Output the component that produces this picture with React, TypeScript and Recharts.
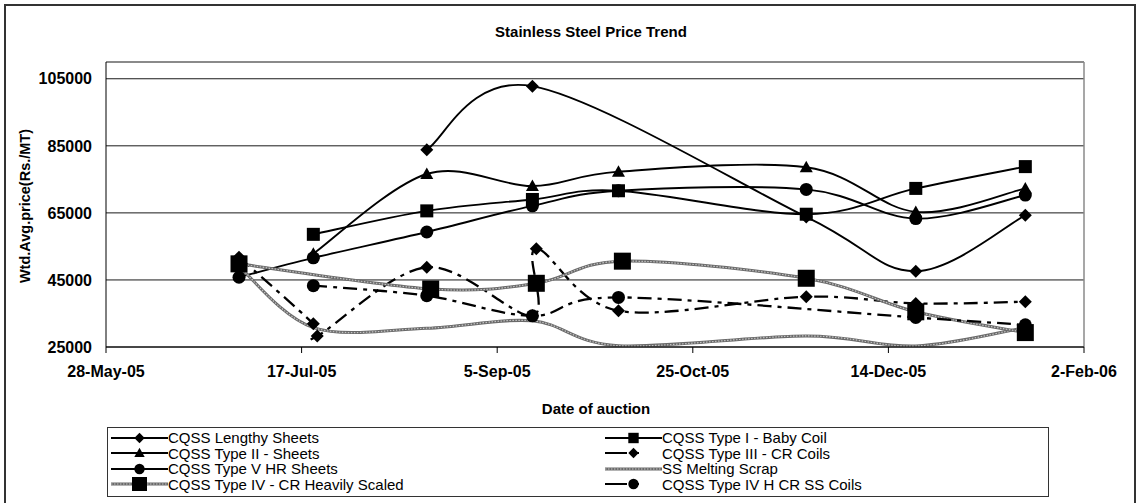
import React from 'react';
import { LineChart, Line, XAxis, YAxis, CartesianGrid, ReferenceLine } from 'recharts';

const FONT = '"Liberation Sans", Arial, sans-serif';

// axis
const xTickDates = ['2005-05-28', '2005-07-17', '2005-09-05', '2005-10-25', '2005-12-14', '2006-02-02'];
const xTickLabels = ['28-May-05', '17-Jul-05', '5-Sep-05', '25-Oct-05', '14-Dec-05', '2-Feb-06'];
const yTicks = [25000, 45000, 65000, 85000, 105000];
const yMax = 110000;

// series (auction date, Rs./MT)
const lengthyDates = ['2005-08-18', '2005-09-14', '2005-11-23', '2005-12-21', '2006-01-18'];
const lengthyValues = [83800, 102800, 63800, 47600, 64300];

const babyCoilDates = ['2005-07-20', '2005-08-18', '2005-09-14', '2005-10-06', '2005-11-23', '2005-12-21', '2006-01-18'];
const babyCoilValues = [58600, 65600, 69000, 71600, 64600, 72300, 78800];

const type2Dates = ['2005-07-20', '2005-08-18', '2005-09-14', '2005-10-06', '2005-11-23', '2005-12-21', '2006-01-18'];
const type2Values = [52800, 76600, 73000, 77300, 78600, 65300, 72300];

const type3Dates = ['2005-07-01', '2005-07-20', '2005-07-21', '2005-08-18', '2005-09-14', '2005-09-15', '2005-10-06', '2005-11-23', '2005-12-21', '2006-01-18'];
const type3Values = [51800, 31900, 28300, 48800, 34300, 54300, 35800, 40000, 38000, 38500];

const type5Dates = ['2005-07-01', '2005-07-20', '2005-08-18', '2005-09-14', '2005-10-06', '2005-11-23', '2005-12-21', '2006-01-18'];
const type5Values = [45800, 51600, 59300, 67100, 71600, 72000, 63300, 70300];

const scrapDates = ['2005-07-01', '2005-07-20', '2005-08-18', '2005-09-14', '2005-10-06', '2005-11-23', '2005-12-21', '2006-01-18'];
const scrapValues = [49000, 30800, 30600, 32800, 25400, 28300, 25300, 30800];

const scaledDates = ['2005-07-01', '2005-08-19', '2005-09-15', '2005-10-07', '2005-11-23', '2005-12-21', '2006-01-18'];
const scaledValues = [49800, 42300, 44000, 50600, 45500, 35500, 29300];

const type4hDates = ['2005-07-20', '2005-08-18', '2005-09-14', '2005-10-06', '2005-12-21', '2006-01-18'];
const type4hValues = [43300, 40300, 34300, 39800, 33800, 31600];

const toTime = (d: string) => Date.parse(d + 'T00:00:00Z');
const toPoints = (dates: string[], values: number[]) =>
  dates.map((d, i) => ({ t: toTime(d), v: values[i] }));

const xTicks = xTickDates.map(toTime);
const xMin = xTicks[0];
const xMax = xTicks[xTicks.length - 1];

// Excel-like smoothing (Catmull-Rom as cubic bezier)
function excelCurve(context: any) {
  let pts: [number, number][] = [];
  return {
    areaStart() {},
    areaEnd() {},
    lineStart() {
      pts = [];
    },
    lineEnd() {
      const n = pts.length;
      if (!n) return;
      context.moveTo(pts[0][0], pts[0][1]);
      for (let i = 0; i < n - 1; i++) {
        const p0 = pts[i - 1] || pts[i];
        const p1 = pts[i];
        const p2 = pts[i + 1];
        const p3 = pts[i + 2] || p2;
        context.bezierCurveTo(
          p1[0] + (p2[0] - p0[0]) / 6,
          p1[1] + (p2[1] - p0[1]) / 6,
          p2[0] - (p3[0] - p1[0]) / 6,
          p2[1] - (p3[1] - p1[1]) / 6,
          p2[0],
          p2[1]
        );
      }
    },
    point(x: number, y: number) {
      pts.push([x, y]);
    },
  };
}

type Shape = 'diamond' | 'square' | 'triangle' | 'circle' | 'bigsquare' | 'none';

function Marker({ shape, cx, cy }: { shape: Shape; cx: number; cy: number }) {
  if (shape === 'diamond')
    return <path d={`M${cx},${cy - 6.5}L${cx + 6.5},${cy}L${cx},${cy + 6.5}L${cx - 6.5},${cy}Z`} fill="#000" />;
  if (shape === 'triangle')
    return <path d={`M${cx},${cy - 6.5}L${cx + 6.5},${cy + 5}L${cx - 6.5},${cy + 5}Z`} fill="#000" />;
  if (shape === 'square') return <rect x={cx - 6.5} y={cy - 6.5} width={13} height={13} fill="#000" />;
  if (shape === 'bigsquare') return <rect x={cx - 8.5} y={cy - 8.5} width={17} height={17} fill="#000" />;
  if (shape === 'circle') return <circle cx={cx} cy={cy} r={6.5} fill="#000" />;
  return null;
}

const makeDot = (shape: Shape) => (props: any) => {
  const { cx, cy, index } = props;
  return (
    <g key={`${shape}-${index}`}>
      {cx != null && cy != null ? <Marker shape={shape} cx={cx} cy={cy} /> : null}
    </g>
  );
};

const DASH = '14 6 4 6';
const GRAY_BASE = '#6a6a6a';
const GRAY_DOTS = '#c4c4c4';

interface SeriesDef {
  name: string;
  data: { t: number; v: number }[];
  shape: Shape;
  dash?: string;
  textured?: boolean;
}

const series: SeriesDef[] = [
  { name: 'CQSS Lengthy Sheets', data: toPoints(lengthyDates, lengthyValues), shape: 'diamond' },
  { name: 'CQSS Type I - Baby Coil', data: toPoints(babyCoilDates, babyCoilValues), shape: 'square' },
  { name: 'CQSS Type II - Sheets', data: toPoints(type2Dates, type2Values), shape: 'triangle' },
  { name: 'CQSS Type III - CR Coils', data: toPoints(type3Dates, type3Values), shape: 'diamond', dash: DASH },
  { name: 'CQSS Type V HR Sheets', data: toPoints(type5Dates, type5Values), shape: 'circle' },
  { name: 'SS Melting Scrap', data: toPoints(scrapDates, scrapValues), shape: 'none', textured: true },
  { name: 'CQSS Type IV - CR Heavily Scaled', data: toPoints(scaledDates, scaledValues), shape: 'bigsquare', textured: true },
  { name: 'CQSS Type IV H CR SS Coils', data: toPoints(type4hDates, type4hValues), shape: 'circle', dash: DASH },
];

function LegendSample({ s }: { s: SeriesDef }) {
  return (
    <svg width={57} height={14} style={{ display: 'block' }}>
      {s.textured ? (
        <>
          <line x1={0} y1={7} x2={57} y2={7} stroke={GRAY_BASE} strokeWidth={3} />
          <line x1={0} y1={7} x2={57} y2={7} stroke={GRAY_DOTS} strokeWidth={1.2} strokeDasharray="1.5 1.5" />
        </>
      ) : (
        <line x1={0} y1={7} x2={57} y2={7} stroke="#000" strokeWidth={s.dash ? 2.2 : 1.8} strokeDasharray={s.dash ? '22 6 6 30' : undefined} />
      )}
      {s.shape === 'bigsquare' ? (
        <rect x={21} y={0} width={15} height={14} fill="#000" />
      ) : (
        <g transform="translate(28.5 7) scale(0.8) translate(-28.5 -7)">
          <Marker shape={s.shape} cx={28.5} cy={7} />
        </g>
      )}
    </svg>
  );
}

export default function App() {
  const tickStyle = { fontFamily: FONT, fontSize: 16, fontWeight: 700, fill: '#000' };
  return (
    <div
      style={{
        position: 'absolute',
        left: 0,
        top: 0,
        width: 1138,
        height: 503,
        overflow: 'hidden',
        background: '#fff',
        fontFamily: FONT,
      }}
    >
      <div
        style={{
          position: 'absolute',
          left: 4,
          top: 4,
          width: 1128,
          height: 600,
          border: '2px solid #333',
        }}
      />
      <div
        style={{
          position: 'absolute',
          left: 0,
          width: 1138,
          top: 23,
          textAlign: 'center',
          fontSize: 15,
          fontWeight: 700,
          paddingLeft: 44,
          boxSizing: 'border-box',
        }}
      >
        Stainless Steel Price Trend
      </div>

      <LineChart
        width={1138}
        height={503}
        margin={{ top: 62, right: 54, left: 6, bottom: 126 }}
        style={{ position: 'absolute', left: 0, top: 0 }}
      >
        <CartesianGrid vertical={false} stroke="#1a1a1a" strokeWidth={1} />
        <XAxis
          type="number"
          dataKey="t"
          domain={[xMin, xMax]}
          ticks={xTicks}
          tickFormatter={(v: number) => xTickLabels[xTicks.indexOf(v)] ?? ''}
          tick={tickStyle}
          tickSize={6}
          tickMargin={13}
          height={30}
          stroke="#000"
          allowDataOverflow
        />
        <YAxis
          type="number"
          domain={[25000, yMax]}
          ticks={yTicks}
          tick={tickStyle}
          tickLine={false}
          tickSize={6}
          tickMargin={8}
          width={100}
          stroke="#000"
          allowDataOverflow
        />
        <ReferenceLine y={yMax} stroke="#8a8a8a" strokeWidth={1.5} />
        <ReferenceLine x={xMax} stroke="#8a8a8a" strokeWidth={1.5} />

        {series.map((s) =>
          s.textured
            ? [
                <Line
                  key={s.name + '-base'}
                  data={s.data}
                  dataKey="v"
                  type={excelCurve as any}
                  stroke={GRAY_BASE}
                  strokeWidth={3}
                  dot={false}
                  activeDot={false}
                  isAnimationActive={false}
                  legendType="none"
                />,
                <Line
                  key={s.name}
                  name={s.name}
                  data={s.data}
                  dataKey="v"
                  type={excelCurve as any}
                  stroke={GRAY_DOTS}
                  strokeWidth={1.2}
                  strokeDasharray="1.5 1.5"
                  dot={makeDot(s.shape)}
                  activeDot={false}
                  isAnimationActive={false}
                />,
              ]
            : (
                <Line
                  key={s.name}
                  name={s.name}
                  data={s.data}
                  dataKey="v"
                  type={excelCurve as any}
                  stroke="#000"
                  strokeWidth={s.dash ? 2.3 : 1.9}
                  strokeDasharray={s.dash}
                  dot={makeDot(s.shape)}
                  activeDot={false}
                  isAnimationActive={false}
                />
              )
        )}
      </LineChart>

      {/* axis titles */}
      <div
        style={{
          position: 'absolute',
          left: 25,
          top: 206,
          transform: 'translate(-50%, -50%) rotate(-90deg)',
          whiteSpace: 'nowrap',
          fontSize: 14.5,
          fontWeight: 700,
        }}
      >
        Wtd.Avg.price(Rs./MT)
      </div>
      <div
        style={{
          position: 'absolute',
          left: 596,
          top: 408,
          transform: 'translate(-50%, -50%)',
          whiteSpace: 'nowrap',
          fontSize: 15,
          fontWeight: 700,
        }}
      >
        Date of auction
      </div>

      {/* legend */}
      <div
        style={{
          position: 'absolute',
          left: 107,
          top: 427,
          width: 942,
          height: 70,
          border: '1px solid #333',
          boxSizing: 'border-box',
        }}
      >
        {series.map((s, i) => (
          <div
            key={s.name}
            style={{
              position: 'absolute',
              left: i % 2 === 0 ? 3 : 497,
              top: 2 + Math.floor(i / 2) * 15.5,
              height: 15,
              display: 'flex',
              alignItems: 'center',
              fontSize: 15,
              lineHeight: '15px',
              whiteSpace: 'nowrap',
            }}
          >
            <LegendSample s={s} />
            <span>{s.name}</span>
          </div>
        ))}
      </div>
    </div>
  );
}
